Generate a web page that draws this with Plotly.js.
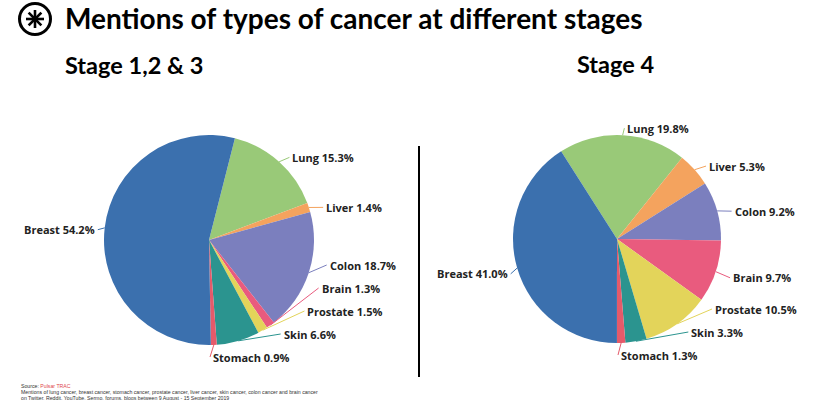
<!DOCTYPE html>
<html><head><meta charset="utf-8">
<script src="https://cdn.plot.ly/plotly-3.0.1.min.js"></script>
<style>body{margin:0;background:#fff}#chart{width:840px;height:400px}</style>
</head><body><div id="chart"></div>
<script>
// ---- data ----
const categories = ['Lung','Liver','Colon','Brain','Prostate','Skin','Stomach','Breast'];
const stage123 = [15.3, 1.4, 18.7, 1.3, 1.5, 6.6, 0.9, 54.2];
const stage4   = [19.8, 5.3, 9.2, 9.7, 10.5, 3.3, 1.3, 41.0];
const colors = ['#99C978','#F4A35E','#7B7FBE','#E95B7E','#E3D45A','#2B948F','#E55A6A','#3B70AE'];
const panelTitles = ['Stage 1,2 & 3', 'Stage 4'];
const mainTitle = 'Mentions of types of cancer at different stages';
const footLines = [
  'Source: <span style="color:#E0474C">Pulsar TRAC</span>',
  'Mentions of lung cancer, breast cancer, stomach cancer, prostate cancer, liver cancer, skin cancer, colon cancer and brain cancer',
  'on Twitter, Reddit, YouTube, Sermo, forums, blogs between 9 August - 15 September 2019'
];

// ---- layout helpers ----
const W = 840, H = 400;
const px = x => x / W, py = y => 1 - y / H;
const pies = [
  {values: stage123, cx: 209, cy: 240, r: 105, rot: 14.3},
  {values: stage4,   cx: 617, cy: 239, r: 104, rot: -32.5}
];

const traces = [], shapes = [], annotations = [];
const LBL_FONT = {family: 'Open Sans, Liberation Sans, sans-serif', size: 11, color: '#222'};

pies.forEach(p => {
  traces.push({
    type: 'pie', labels: categories, values: p.values, sort: false,
    direction: 'clockwise', rotation: p.rot,
    marker: {colors: colors, line: {width: 0}},
    textinfo: 'none', hoverinfo: 'label+percent', showlegend: false,
    domain: {x: [px(p.cx - p.r), px(p.cx + p.r)], y: [py(p.cy + p.r), py(p.cy - p.r)]}
  });
  // label placement computed from the values
  const total = p.values.reduce((a, b) => a + b, 0);
  const R = p.r + 15, Rx = p.r + 14, Ry = p.r + 10;
  let ang = p.rot;
  const items = p.values.map((v, i) => {
    const span = v / total * 360;
    const mid = (ang + span / 2) * Math.PI / 180;
    ang += span;
    const s = Math.sin(mid), c = Math.cos(mid);
    return {i, v, s, c, side: s >= 0 ? 1 : -1,
      ex: p.cx + p.r * s, ey: p.cy - p.r * c,
      xNat: p.cx + Rx * s, yNat: p.cy - Ry * c + 3};
  });
  [1, -1].forEach(side => {
    const list = items.filter(d => d.side === side).sort((a, b) => a.yNat - b.yNat);
    const gap = 23, ymax = p.cy + p.r + 12;
    let next = ymax + gap;
    for (let k = list.length - 1; k >= 0; k--) {
      list[k].y = Math.min(list[k].yNat, next - gap);
      next = list[k].y;
    }
    list.forEach(d => {
      if (Math.abs(d.y - d.yNat) > 0.5) {
        const dy = d.y > p.cy ? d.y - p.cy + 3 : d.y - p.cy;
        d.x = p.cx + side * Math.sqrt(Math.max(0, R * R - dy * dy));
      } else d.x = d.xNat;
    });
  });
  items.forEach(d => {
    const tx = d.side > 0 ? d.x + 2 : d.x + 6;
    shapes.push({type: 'line', xref: 'paper', yref: 'paper',
      x0: px(d.ex), y0: py(d.ey), x1: px(tx - d.side), y1: py(d.y),
      line: {color: colors[d.i], width: 1}});
    annotations.push({xref: 'paper', yref: 'paper', x: px(tx), y: py(d.y),
      xanchor: d.side > 0 ? 'left' : 'right', yanchor: 'middle', showarrow: false,
      text: '<b>' + categories[d.i] + ' ' + d.v.toFixed(1) + '%</b>', font: LBL_FONT});
  });
});

// panel titles
annotations.push({xref: 'paper', yref: 'paper', x: px(63), y: py(65), xanchor: 'left', yanchor: 'middle',
  showarrow: false, text: '<b>' + panelTitles[0] + '</b>', font: {family: 'Lato, sans-serif', size: 23.5, color: '#000'}});
annotations.push({xref: 'paper', yref: 'paper', x: px(575), y: py(64), xanchor: 'left', yanchor: 'middle',
  showarrow: false, text: '<b>' + panelTitles[1] + '</b>', font: {family: 'Lato, sans-serif', size: 23.5, color: '#000'}});
// footnote
[386.2, 392, 397.6].forEach((y, k) => annotations.push({xref: 'paper', yref: 'paper', x: px(19), y: py(y),
  xanchor: 'left', yanchor: 'middle', showarrow: false, text: footLines[k],
  font: {family: 'Liberation Sans, sans-serif', size: 5.2, color: '#333'}}));

// divider and logo
shapes.push({type: 'line', xref: 'paper', yref: 'paper', x0: px(419), x1: px(419), y0: py(146), y1: py(377),
  line: {color: '#000', width: 2}});
const LX = 35, LY = 19, LR = 15.5;
shapes.push({type: 'circle', xref: 'paper', yref: 'paper', x0: px(LX - LR), x1: px(LX + LR), y0: py(LY + LR), y1: py(LY - LR),
  line: {color: '#000', width: 3}});
[0, 45, 90, 135].forEach(a => {
  const t = a * Math.PI / 180, L = 9;
  shapes.push({type: 'line', xref: 'paper', yref: 'paper',
    x0: px(LX - L * Math.cos(t)), x1: px(LX + L * Math.cos(t)),
    y0: py(LY - L * Math.sin(t)), y1: py(LY + L * Math.sin(t)),
    line: {color: '#000', width: 2.6}});
});

const layout = {
  width: W, height: H, margin: {l: 0, r: 0, t: 0, b: 0},
  paper_bgcolor: '#fff', plot_bgcolor: '#fff',
  title: {text: '<b>' + mainTitle + '</b>', x: px(65), xanchor: 'left', xref: 'paper',
    y: py(19), yanchor: 'middle', yref: 'paper',
    font: {family: 'Lato, sans-serif', size: 28, color: '#000'}},
  shapes, annotations
};
Plotly.newPlot('chart', traces, layout, {displayModeBar: false, staticPlot: true});
</script></body></html>
